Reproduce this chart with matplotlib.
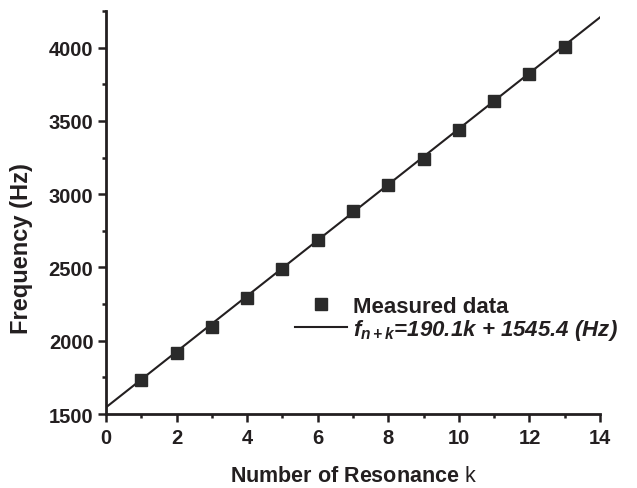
import matplotlib
matplotlib.use("Agg")
from matplotlib import pyplot as plt
from matplotlib.ticker import MultipleLocator
from matplotlib.lines import Line2D
import numpy as np

plt.rcParams['font.family'] = ['Liberation Sans', 'DejaVu Sans']
plt.rcParams['mathtext.fontset'] = 'custom'
plt.rcParams['mathtext.it'] = 'Liberation Sans:bold:italic'
plt.rcParams['mathtext.rm'] = 'Liberation Sans:bold:italic'
plt.rcParams['mathtext.sf'] = 'Liberation Sans'

# measured resonance frequencies
k_values = [1, 2, 3, 4, 5, 6, 7, 8, 9, 10, 11, 12, 13]
freq_hz = [1734, 1915, 2096, 2292, 2490, 2684, 2885, 3060, 3242, 3440, 3636, 3818, 4005]

# linear fit shown in the legend
fit_slope = 190.1
fit_intercept = 1545.4
fit_k_range = [0, 14]

ink = '#231f20'

fig = plt.figure(figsize=(6.37, 4.89), dpi=100)
ax = fig.add_axes([0.1664, 0.1513, 0.7756, 0.8242])

fit_k = np.array(fit_k_range, dtype=float)
ax.plot(fit_k, fit_slope * fit_k + fit_intercept, color=ink, lw=1.5, zorder=2)
ax.plot(k_values, freq_hz, ls='none', marker='s', ms=8, color='#2a2a2a', zorder=3)

ax.set_xlim(0, 14)
ax.set_ylim(1500, 4250)
ax.xaxis.set_major_locator(MultipleLocator(2))
ax.xaxis.set_minor_locator(MultipleLocator(1))
ax.yaxis.set_major_locator(MultipleLocator(500))
ax.yaxis.set_minor_locator(MultipleLocator(250))

for s in ['top', 'right']:
    ax.spines[s].set_visible(False)
for s in ['left', 'bottom']:
    ax.spines[s].set_linewidth(2)
    ax.spines[s].set_color(ink)

ax.tick_params(which='major', direction='out', length=6, width=1.8, colors=ink,
               labelsize=14.5)
ax.tick_params(axis='y', which='major', pad=3)
ax.tick_params(axis='x', which='major', pad=4)
ax.tick_params(which='minor', direction='out', length=3, width=1.8, colors=ink)
for lab in ax.get_xticklabels() + ax.get_yticklabels():
    lab.set_fontweight('bold')

ax.set_xlabel(r'Number of Resonance $\mathsf{k}$', fontsize=15.5, fontweight='bold',
              labelpad=13, color=ink)
ax.set_ylabel('Frequency (Hz)', fontsize=17, fontweight='bold', color=ink)
ax.yaxis.set_label_coords(-0.148, 0.412)

handles = [Line2D([], [], ls='none', marker='s', ms=8.5, color='#2a2a2a'),
           Line2D([], [], color=ink, lw=1.5)]
labels = ['Measured data', r'$f_{n+k}$=190.1k + 1545.4 (Hz)']
leg = ax.legend(handles, labels, loc='upper left', bbox_to_anchor=(0.383, 0.293),
                frameon=False, fontsize=16, handlelength=2.35, handletextpad=0.25,
                labelspacing=0.0, borderaxespad=0, borderpad=0)
for t in leg.get_texts():
    t.set_fontweight('bold')
    t.set_color(ink)
leg.get_texts()[1].set_fontstyle('italic')

fig.savefig('out.png', dpi=100, facecolor='white')
